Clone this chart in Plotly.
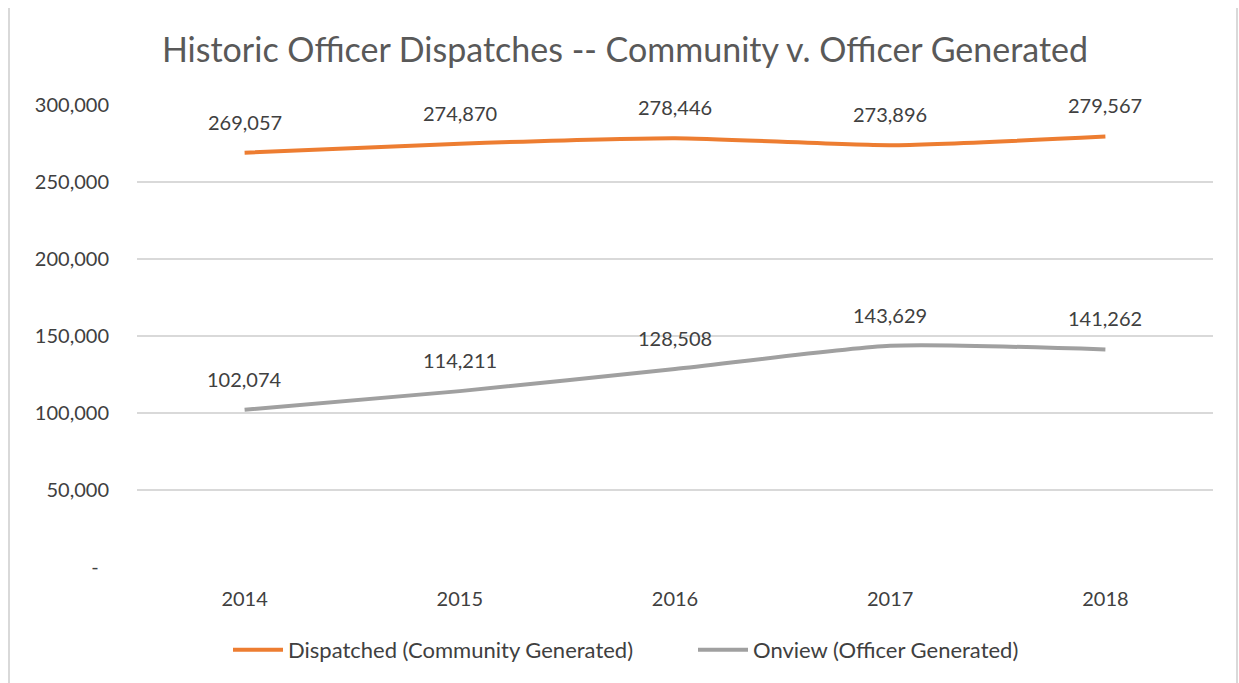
import plotly.graph_objects as go

# Annual dispatch counts
years = ["2014", "2015", "2016", "2017", "2018"]
dispatched = [269057, 274870, 278446, 273896, 279567]
onview = [102074, 114211, 128508, 143629, 141262]

y_tick_vals = [0, 50000, 100000, 150000, 200000, 250000, 300000]
y_tick_text = ["-\u00a0\u00a0", "50,000", "100,000", "150,000", "200,000", "250,000", "300,000"]

ORANGE = "#ED7D31"
GREY = "#A0A0A0"
TEXT = "#404040"
FONT = "Lato"

W, H = 1239, 683
L, R, T, B = 137, 26, 105, 116


def px_x(px):
    return (px - L) / (W - L - R)


def px_y(py):
    return (H - B - py) / (H - T - B)


fig = go.Figure()
fig.add_trace(go.Scatter(
    x=years, y=dispatched, mode="lines", name="Dispatched (Community Generated)",
    line=dict(color=ORANGE, width=4, shape="spline", smoothing=0.6),
))
fig.add_trace(go.Scatter(
    x=years, y=onview, mode="lines", name="Onview (Officer Generated)",
    line=dict(color=GREY, width=4, shape="spline", smoothing=0.6),
))

# value labels above each point (category index on the x axis)
for series in (dispatched, onview):
    for i, v in enumerate(series):
        fig.add_annotation(
            x=i, y=v, xref="x", yref="y", text=f"{v:,}", showarrow=False, yshift=31,
            font=dict(family=FONT, size=20, color=TEXT),
        )

# chart-area border (left and right edges)
for xp in (9, 1237):
    fig.add_shape(
        type="line", xref="paper", yref="paper",
        x0=px_x(xp), x1=px_x(xp), y0=px_y(8), y1=px_y(H),
        line=dict(color="#D9D9D9", width=2),
    )

fig.update_layout(
    width=W, height=H,
    margin=dict(l=L, r=R, t=T, b=B),
    paper_bgcolor="white", plot_bgcolor="white",
    title=dict(
        text="Historic Officer Dispatches -- Community v. Officer Generated",
        x=px_x(625), xref="paper", xanchor="center",
        y=1 - 50 / H, yref="container", yanchor="middle",
        font=dict(family=FONT, size=34, color="#595959"),
    ),
    xaxis=dict(
        type="category", range=[-0.5, 4.5],
        showgrid=False, showline=False, zeroline=False,
        ticks="", tickfont=dict(family=FONT, size=20, color=TEXT),
        ticklabelstandoff=18,
    ),
    yaxis=dict(
        range=[0, 300000], tickvals=y_tick_vals, ticktext=y_tick_text,
        showgrid=True, gridcolor="#D9D9D9", gridwidth=1.5,
        zeroline=False, showline=False, ticks="",
        tickfont=dict(family=FONT, size=20, color=TEXT),
        ticklabelstandoff=27,
    ),
    legend=dict(
        orientation="h", x=px_x(228), xanchor="left",
        y=px_y(650), yanchor="middle",
        font=dict(family=FONT, size=22, color=TEXT),
        itemwidth=50, entrywidth=400, entrywidthmode="pixels",
    ),
    showlegend=True,
)

fig.write_html("out.html")
